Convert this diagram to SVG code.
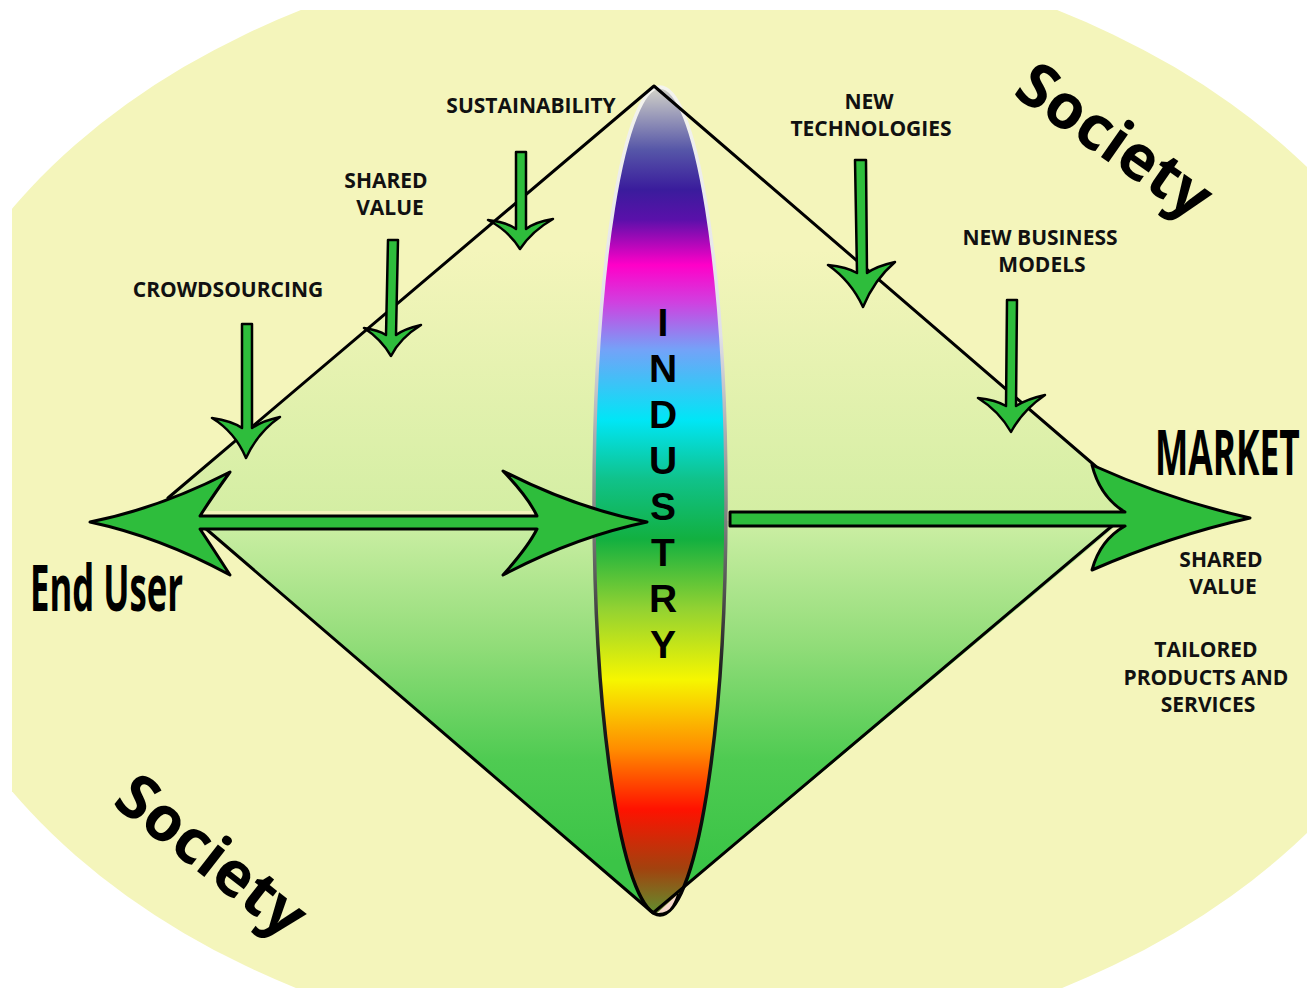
<svg xmlns="http://www.w3.org/2000/svg" width="1307" height="988" viewBox="0 0 1307 988">
  <defs>
    <clipPath id="frame"><rect x="12" y="10" width="1295" height="978"/></clipPath>
    <linearGradient id="upperFill" gradientUnits="userSpaceOnUse" x1="0" y1="250" x2="0" y2="520">
      <stop offset="0" stop-color="#f4f5bb"/>
      <stop offset="1" stop-color="#d3eea3"/>
    </linearGradient>
    <linearGradient id="lowerFill" gradientUnits="userSpaceOnUse" x1="0" y1="525" x2="0" y2="860">
      <stop offset="0" stop-color="#cbeea3"/>
      <stop offset="0.35" stop-color="#93dd7a"/>
      <stop offset="0.7" stop-color="#4fcb52"/>
      <stop offset="1" stop-color="#3bc447"/>
    </linearGradient>
    <linearGradient id="rainbow" gradientUnits="userSpaceOnUse" x1="0" y1="87" x2="0" y2="915">
      <stop offset="0" stop-color="#d4d4c8"/>
      <stop offset="0.076" stop-color="#5656a8"/>
      <stop offset="0.124" stop-color="#3a1c9c"/>
      <stop offset="0.16" stop-color="#5a10aa"/>
      <stop offset="0.215" stop-color="#ff00c8"/>
      <stop offset="0.26" stop-color="#d040e0"/>
      <stop offset="0.317" stop-color="#74a2f8"/>
      <stop offset="0.402" stop-color="#00e6f6"/>
      <stop offset="0.474" stop-color="#10c28a"/>
      <stop offset="0.546" stop-color="#12b040"/>
      <stop offset="0.63" stop-color="#92d232"/>
      <stop offset="0.716" stop-color="#f6f600"/>
      <stop offset="0.8" stop-color="#ff8c00"/>
      <stop offset="0.872" stop-color="#ff1200"/>
      <stop offset="0.944" stop-color="#a2420e"/>
      <stop offset="1" stop-color="#5e9230"/>
    </linearGradient>
    <linearGradient id="lensEdge" gradientUnits="userSpaceOnUse" x1="0" y1="87" x2="0" y2="915">
      <stop offset="0" stop-color="#f4f4ee"/>
      <stop offset="0.3" stop-color="#e0e0e8"/>
      <stop offset="0.5" stop-color="#8a8a8a"/>
      <stop offset="0.7" stop-color="#222222"/>
      <stop offset="1" stop-color="#000000"/>
    </linearGradient>
    <style>
      .bg { fill: #f4f5bb; }
      .edge { fill: none; stroke: #000; stroke-width: 3; stroke-linecap: round; stroke-linejoin: round; }
      .arrow { fill: #2ebd3c; stroke: #000; stroke-width: 3; stroke-linejoin: round; }
      .small { fill: #2ebd3c; stroke: #000; stroke-width: 2.5; stroke-linejoin: round; }
      .label { font-family: "Open Sans", "Liberation Sans", sans-serif; font-weight: bold; font-size: 21px; fill: #111; text-anchor: middle; }
      .big { font-family: "Open Sans", "Liberation Sans", sans-serif; font-weight: bold; fill: #000; }
      .society { font-family: "Open Sans", "Liberation Sans", sans-serif; font-weight: bold; font-size: 62px; fill: #000; text-anchor: middle; }
      .ind { font-family: "Liberation Sans", "Open Sans", sans-serif; font-weight: bold; font-size: 39px; fill: #000; text-anchor: middle; }
    </style>
  </defs>

  <rect width="1307" height="988" fill="#ffffff"/>
  <g id="society-background" clip-path="url(#frame)">
    <ellipse class="bg" cx="679" cy="500" rx="781" ry="560"/>
  </g>

  <g id="diamond">
    <path d="M655,87 L150,511 L1150,511 Z" fill="url(#upperFill)"/>
    <path d="M195,521 L1122,521 L654,913 Z" fill="url(#lowerFill)"/>
  </g>

  <g id="industry">
    <ellipse cx="660" cy="501" rx="66" ry="414" fill="url(#rainbow)" stroke="url(#lensEdge)" stroke-width="3.5"/>
    <path d="M656,914 Q668,915 673,906 Q677,899 678,894" fill="#f6d9cc" stroke="#000" stroke-width="2"/>
    <text class="ind" x="663" y="336">I</text>
    <text class="ind" x="663" y="382">N</text>
    <text class="ind" x="663" y="428">D</text>
    <text class="ind" x="663" y="474">U</text>
    <text class="ind" x="663" y="520">S</text>
    <text class="ind" x="663" y="566">T</text>
    <text class="ind" x="663" y="612">R</text>
    <text class="ind" x="663" y="658">Y</text>
  </g>

  <g id="connectors">
    <path class="edge" d="M168,498 L654,86 L1100,470"/>
    <path class="edge" d="M205,528 L653,913 L1112,526"/>
    <path id="enduser-industry" class="arrow" d="M90,522 Q160,508 230,472 Q212,497 200,516 L537,516 Q528,497 503,471 Q575,508 647,522 Q575,537 503,575 Q528,547 537,529 L200,529 Q212,547 230,575 Q160,537 90,522 Z"/>
    <path id="industry-market" class="arrow" d="M730,512 L1125,512 Q1100,497 1092,465 Q1170,500 1250,518 Q1170,536 1092,570 Q1100,540 1125,526 L730,526 Z"/>
    <path id="arrow-crowdsourcing" class="small" d="M242,324 L252,324 L252,428 Q262,421 280,417 Q258,432 246,458 Q235,432 212,418 Q232,421 242,428 Z"/>
    <path id="arrow-shared-value" class="small" d="M388,240 L398,240 L396,335 Q404,329 421,325 Q400,338 391,356 Q381,339 364,328 Q378,330 386,335 Z"/>
    <path id="arrow-sustainability" class="small" d="M516,152 L526,152 L526,229 Q535,222 553,219 Q532,231 520,249 Q509,231 488,220 Q506,222 516,229 Z"/>
    <path id="arrow-new-technologies" class="small" d="M855,160 L866,160 L867,273 Q877,266 895,262 Q874,280 863,307 Q851,281 828,265 Q847,267 857,273 Z"/>
    <path id="arrow-new-business" class="small" d="M1007,300 L1017,300 L1016,406 Q1027,399 1045,395 Q1023,410 1011,432 Q999,411 978,398 Q996,400 1006,406 Z"/>
  </g>

  <g id="label-crowdsourcing"><text class="label" x="228" y="297">CROWDSOURCING</text></g>
  <g id="label-shared-value"><text class="label" x="386" y="188">SHARED</text><text class="label" x="390" y="215">VALUE</text></g>
  <g id="label-sustainability"><text class="label" x="531" y="113">SUSTAINABILITY</text></g>
  <g id="label-new-technologies"><text class="label" x="869" y="109">NEW</text><text class="label" x="871" y="136">TECHNOLOGIES</text></g>
  <g id="label-new-business"><text class="label" x="1040" y="245">NEW BUSINESS</text><text class="label" x="1042" y="272">MODELS</text></g>
  <g id="label-market-outputs">
    <text class="label" x="1221" y="567">SHARED</text>
    <text class="label" x="1223" y="594">VALUE</text>
    <text class="label" x="1206" y="657">TAILORED</text>
    <text class="label" x="1206" y="685">PRODUCTS AND</text>
    <text class="label" x="1208" y="712">SERVICES</text>
  </g>
  <g id="end-user"><text class="big" x="30" y="611" font-size="64" textLength="153" lengthAdjust="spacingAndGlyphs">End User</text></g>
  <g id="market"><text class="big" font-size="62" transform="matrix(0.57 0 0 1 1155 475)">MARKET</text></g>
  <g id="society-top"><text class="society" x="1115" y="162" transform="rotate(35 1115 140)">Society</text></g>
  <g id="society-bottom"><text class="society" x="212" y="877" transform="rotate(38 212 855)">Society</text></g>
</svg>
